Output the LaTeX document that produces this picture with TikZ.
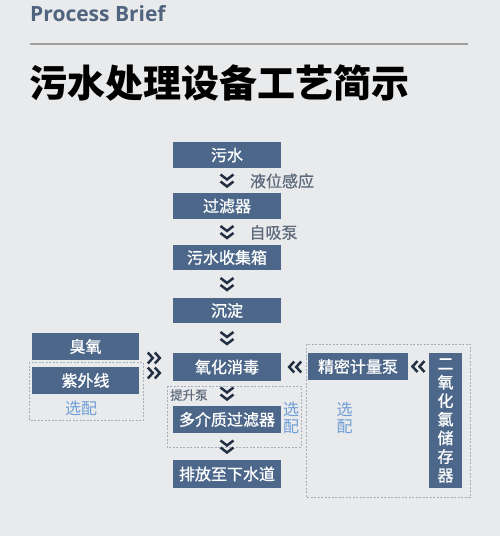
\documentclass[tikz,border=0pt]{standalone}
\usepackage{fontspec}
\usetikzlibrary{calc}
\newfontfamily\cjk{Noto Sans CJK SC}
\newfontfamily\cjkbox[FakeBold=1]{Noto Sans CJK SC}
\newfontfamily\cjkside[FakeBold=0.5]{Noto Sans CJK SC}
\newfontfamily\latin{Open Sans}
\definecolor{paper}{RGB}{233,234,236}
\definecolor{boxblue}{RGB}{76,103,137}
\definecolor{brief}{RGB}{80,100,128}
\definecolor{sidegray}{RGB}{92,106,124}
\definecolor{optblue}{RGB}{110,158,214}
\definecolor{chevdark}{RGB}{35,48,68}
\definecolor{dashgray}{RGB}{165,174,188}
\tikzstyle{procbox}=[fill=boxblue, text=white, inner sep=0pt, minimum width=108pt, minimum height=26pt, font=\cjkbox\fontsize{16}{16}\selectfont]
\tikzset{sidetext/.style={text=sidegray, inner sep=0pt, font=\cjkside\fontsize{16}{16}\selectfont}}
\tikzset{opttext/.style={text=optblue, inner sep=0pt, align=center, font=\cjk\fontsize{16}{17}\selectfont}}
\tikzset{optbox/.style={draw=dashgray, dashed, line width=.8pt, dash pattern=on 2pt off 1.5pt}}
\tikzset{chevron/.style={draw=chevdark, line width=2.5pt, line join=miter}}
\tikzset{chev down/.pic={\draw[chevron] (-6.5,-6)--(0,-1)--(6.5,-6) (-6.5,1)--(0,6)--(6.5,1);}}
\tikzset{chev right/.pic={\draw[chevron] (-6,-5.5)--(-1,0)--(-6,5.5) (1,-5.5)--(6,0)--(1,5.5);}}
\tikzset{chev left/.pic={\draw[chevron] (6,-5.5)--(1,0)--(6,5.5) (-1,-5.5)--(-6,0)--(-1,5.5);}}

\begin{document}
\begin{tikzpicture}[x=1pt,y=-1pt]
  \fill[paper] (0,0) rectangle (500,536);
  \useasboundingbox (0,0) rectangle (500,536);

  %% Heading
  \draw (30,21) node[anchor=base west, inner sep=0pt, text=brief, font=\latin\bfseries\fontsize{21}{21}\selectfont] (brief) {Process Brief};
  \draw[gray!75, line width=1.2pt] (30,44) -- (468,44);
  \draw (29,83) node[anchor=west, inner sep=0pt, font=\cjk\bfseries\fontsize{38}{38}\selectfont] (title) {污水处理设备工艺简示};

  %% Optional groups
  \draw[optbox] (29,362) rectangle (143,420);
  \draw[optbox] (167,386) rectangle (301,447);
  \draw[optbox] (306,344) rectangle (470,497);

  %% Main line
  \draw (227,155) node[procbox] (water) {污水};
  \draw (227,206) node[procbox] (filter) {过滤器};
  \draw (227,257.5) node[procbox, minimum height=25pt] (tank) {污水收集箱};
  \draw (227,310.5) node[procbox, minimum height=25pt] (settle) {沉淀};
  \draw (227,367) node[procbox, minimum height=28pt] (oxid) {氧化消毒};
  \draw (227,419.5) node[procbox, minimum height=27pt] (media) {多介质过滤器};
  \draw (227,474) node[procbox, minimum height=28pt] (drain) {排放至下水道};

  %% Side units
  \draw (85.5,346.5) node[procbox, minimum width=107pt, minimum height=27pt] (ozone) {臭氧};
  \draw (85.5,380.5) node[procbox, minimum width=107pt, minimum height=27pt] (uv) {紫外线};
  \draw (358,366.5) node[procbox, minimum width=100pt, minimum height=27pt] (meter) {精密计量泵};
  \draw (445.5,420.5) node[procbox, minimum width=33pt, minimum height=135pt, align=center, font=\cjkbox\fontsize{16}{18.6}\selectfont] (store) {二\\氧\\化\\氯\\储\\存\\器};

  %% Chevrons
  \pic at ($(water.south)!.5!(filter.north)$) {chev down};
  \pic at ($(filter.south)!.5!(tank.north)$) {chev down};
  \pic at ($(tank.south)!.5!(settle.north)$) {chev down};
  \pic at ($(settle.south)!.5!(oxid.north)$) {chev down};
  \pic at ($(oxid.south)!.5!(media.north)$) {chev down};
  \pic at ($(media.south)!.5!(drain.north)$) {chev down};
  \pic at ($(oxid.west)+(-19,-9)$) {chev right};
  \pic at ($(oxid.west)+(-19,6)$) {chev right};
  \pic at ($(oxid.east)+(14,0)$) {chev left};
  \pic at ($(meter.east)!.5!(store.west |- meter.east)$) {chev left};

  %% Labels
  \draw (282,181) node[sidetext] (level) {液位感应};
  \draw (273.5,232.5) node[sidetext] (selfpump) {自吸泵};
  \draw (170,395) node[sidetext, anchor=west, font=\cjkside\fontsize{12.5}{12.5}\selectfont] (lift) {提升泵};
  \draw (81,408) node[opttext] (optL) {选配};
  \draw (291,418) node[opttext] (optM) {选\\配};
  \draw (344.5,418) node[opttext] (optR) {选\\配};
\end{tikzpicture}
\end{document}
